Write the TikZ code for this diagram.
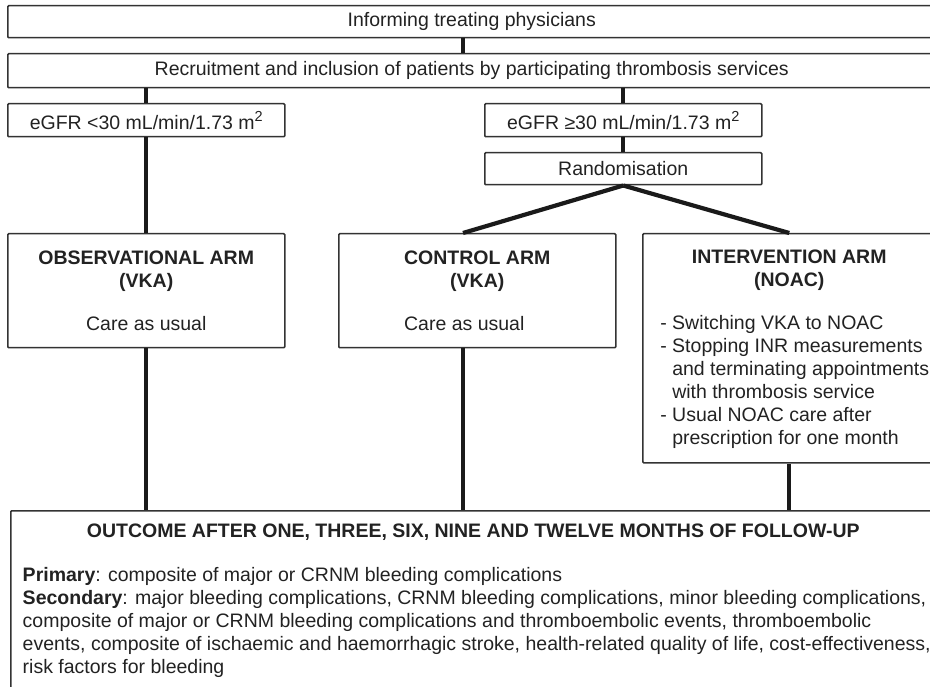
\documentclass[tikz,border=0pt]{standalone}
\usepackage{fontspec}
\setmainfont{Liberation Sans}
\usetikzlibrary{calc}
\definecolor{txt}{HTML}{222222}
\definecolor{bord}{HTML}{333333}
\definecolor{conncol}{HTML}{1A1A1A}
\newcommand\supr[1]{\raisebox{8pt}{\fontsize{14.5}{15}\selectfont #1}}
\begin{document}
\begin{tikzpicture}[x=1pt,y=-1pt,
  every node/.style={font=\fontsize{19.5}{23}\selectfont, text=txt},
  box/.style={draw=bord, line width=1.5pt, rounded corners=1pt, inner sep=0pt, anchor=north west},
  conn/.style={draw=conncol, line width=4.2pt}]
\useasboundingbox (0,0) rectangle (930,687);
\node[box, minimum width=928pt, minimum height=32pt] (inform) at (7,5) {Informing treating physicians};
\node[box, minimum width=928pt, minimum height=34pt] (recruit) at (7,53) {Recruitment and inclusion of patients by participating thrombosis services};
\node[box, minimum width=277pt, minimum height=33pt] (low) at (7,103) {eGFR <30 mL/min/1.73 m\supr{2}};
\node[box, minimum width=277pt, minimum height=33pt] (high) at (484,103) {eGFR ≥30 mL/min/1.73 m\supr{2}};
\node[box, minimum width=277pt, minimum height=32pt] (rand) at (484,152) {Randomisation};
\node[box, minimum width=277pt, minimum height=114pt, align=center] (obs) at (7,233)
  {\textbf{OBSERVATIONAL ARM}\\\textbf{(VKA)}\\[20pt]Care as usual};
\node[box, minimum width=277pt, minimum height=114pt, align=center] (ctrl) at (338,233)
  {\textbf{CONTROL ARM}\\\textbf{(VKA)}\\[20pt]\rlap{Care as usual}\phantom{\textbf{CONTROL ARM}}};
\node[box, minimum width=293pt, minimum height=229pt, align=center] (interv) at (642,233)
  {\rule{0pt}{0pt}\\[-4pt]\textbf{INTERVENTION ARM}\\\textbf{(NOAC)}\\[20pt]\hspace*{11pt}\begin{tabular}[t]{@{}l@{}}- Switching VKA to NOAC\\- Stopping INR measurements\\\phantom{- }and terminating appointments\\\phantom{- }with thrombosis service\\- Usual NOAC care after\\\phantom{- }prescription for one month\end{tabular}};
\node[box, minimum width=925pt, align=left, inner xsep=12pt, inner ysep=13pt] (out) at (10,510)
  {\makebox[901pt][c]{\textbf{OUTCOME AFTER ONE, THREE, SIX, NINE AND TWELVE MONTHS OF FOLLOW-UP}}\\[21pt]
   \textbf{Primary}: composite of major or CRNM bleeding complications\\
   \textbf{Secondary}: major bleeding complications, CRNM bleeding complications, minor bleeding complications,\\
   composite of major or CRNM bleeding complications and thromboembolic events, thromboembolic\\
   events, composite of ischaemic and haemorrhagic stroke, health-related quality of life, cost-effectiveness,\\
   risk factors for bleeding\\[20pt]};
\coordinate (cx) at (463,0);
\draw[conn] (inform.south -| cx) -- (recruit.north -| cx);
\draw[conn] (recruit.south -| low.north) -- (low.north);
\draw[conn] (low.south) -- (obs.north);
\draw[conn] (recruit.south -| high.north) -- (high.north);
\draw[conn] (high.south) -- (rand.north);
\draw[conn] (rand.south) -- (ctrl.north -| cx);
\draw[conn] (rand.south) -- (interv.north);
\draw[conn] (obs.south) -- (out.north -| obs.south);
\draw[conn] (ctrl.south -| cx) -- (out.north -| cx);
\draw[conn] (interv.south) -- (out.north -| interv.south);
\end{tikzpicture}
\end{document}
